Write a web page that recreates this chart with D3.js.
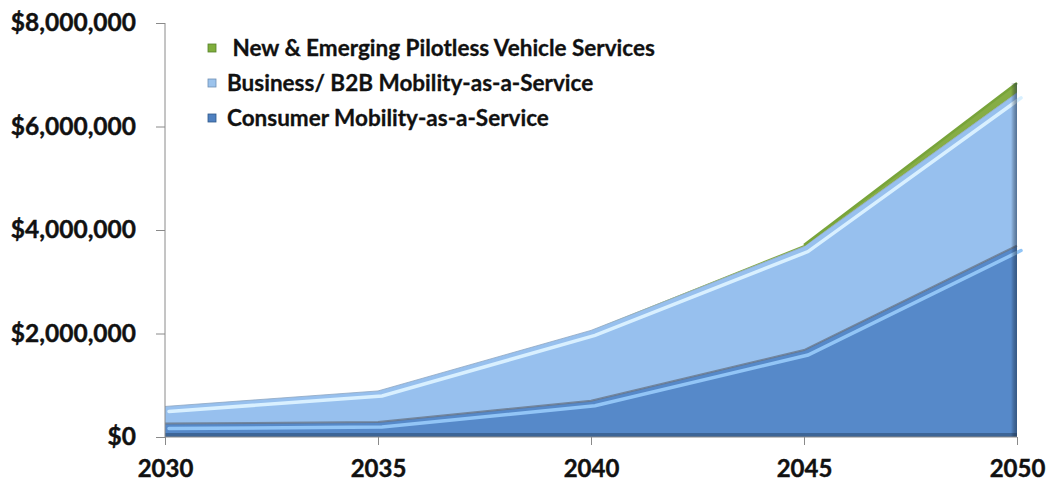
<!DOCTYPE html>
<html>
<head>
<meta charset="utf-8">
<script src="https://cdn.jsdelivr.net/npm/d3@7"></script>
<style>
  body { margin: 0; background: #fff; }
  text { font-family: Lato, "Open Sans", sans-serif; font-weight: bold; fill: #111; }
</style>
</head>
<body>
<div id="chart"></div>
<script>
// data
var years = [2030, 2035, 2040, 2045, 2050];
var consumer = [260000, 290000, 700000, 1680000, 3700000];
var business = [330000, 600000, 1360000, 2000000, 2950000];
var emerging = [0, 0, 0, 30000, 190000];
var seriesNames = ["Consumer Mobility-as-a-Service", "Business/ B2B Mobility-as-a-Service", " New & Emerging Pilotless Vehicle Services"];
var yTicks = [0, 2000000, 4000000, 6000000, 8000000];

var width = 1049, height = 486;
var margin = {top: 23, right: 32, bottom: 49, left: 165};

var svg = d3.select("#chart").append("svg")
    .attr("width", width)
    .attr("height", height);

var x = d3.scaleLinear().domain([2030, 2050]).range([margin.left, width - margin.right]);
var y = d3.scaleLinear().domain([0, 8000000]).range([height - margin.bottom, margin.top]);

var rows = years.map(function(yr, i) {
    return {year: yr, consumer: consumer[i], business: business[i], emerging: emerging[i]};
});
var stacked = d3.stack().keys(["consumer", "business", "emerging"])(rows);

var fills = {consumer: "#5689c9", business: "#97c0ee", emerging: "#86ad45"};
var highlights = {consumer: "#92c5f6", business: "#d9f0ff", emerging: "#a9cf6a"};
var edges = {consumer: "#66758a", business: "#8da6c2", emerging: "#5f8a2a"};

var defs = svg.append("defs");
var sideGrad = defs.append("linearGradient").attr("id", "side").attr("x1", 0).attr("x2", 1);
sideGrad.append("stop").attr("offset", 0).attr("stop-color", "#000").attr("stop-opacity", 0);
sideGrad.append("stop").attr("offset", 1).attr("stop-color", "#1d3350").attr("stop-opacity", 0.55);

var area = d3.area()
    .x(function(d) { return x(d.data.year); })
    .y0(function(d) { return y(d[0]); })
    .y1(function(d) { return y(d[1]); });

var topLine = d3.line()
    .x(function(d) { return x(d.data.year); })
    .y(function(d) { return y(d[1]); });

var plot = svg.append("g");

stacked.forEach(function(s) {
    plot.append("path").datum(s)
        .attr("d", area)
        .attr("fill", fills[s.key]);
});

// bevel look: dark edge on top, light highlight just under it
stacked.forEach(function(s) {
    if (s.key == "emerging") {
        plot.append("path").datum(s.filter(function(d) { return d.data.year >= 2045; }))
            .attr("d", topLine)
            .attr("fill", "none")
            .attr("stroke", "#78a43a")
            .attr("stroke-width", 2.5);
        return;
    }
    plot.append("path").datum(s)
        .attr("d", topLine)
        .attr("fill", "none")
        .attr("stroke", highlights[s.key])
        .attr("stroke-width", 3.5)
        .attr("stroke-linecap", "round")
        .attr("transform", "translate(4,5)");
    plot.append("path").datum(s)
        .attr("d", topLine)
        .attr("fill", "none")
        .attr("stroke", edges[s.key])
        .attr("stroke-width", s.key == "consumer" ? 2 : 1)
        .attr("stroke-opacity", 0.8);
});

// dark bottom rim of the lowest area
plot.append("line")
    .attr("x1", x(2030)).attr("x2", x(2050))
    .attr("y1", y(0) - 2).attr("y2", y(0) - 2)
    .attr("stroke", "#3d6596")
    .attr("stroke-width", 4);

// shading on the right edge
var last = stacked[stacked.length - 1];
plot.append("rect")
    .attr("x", x(2050) - 6)
    .attr("y", y(last[last.length - 1][1]))
    .attr("width", 6)
    .attr("height", y(0) - y(last[last.length - 1][1]))
    .attr("fill", "url(#side)");

// axes
var axisColor = "#8a8a8a";

var yAxis = svg.append("g")
    .attr("transform", "translate(" + x(2030) + ",0)")
    .call(d3.axisLeft(y).tickValues(yTicks).tickSize(9).tickPadding(20)
        .tickFormat(function(d) { return "$" + d3.format(",")(d); }));
yAxis.select(".domain").attr("stroke", axisColor).attr("d", "M0," + y(8000000) + "V" + y(0));
yAxis.selectAll(".tick line").attr("stroke", axisColor);
yAxis.selectAll("text").attr("font-family", "Lato, sans-serif").attr("font-size", 24.5).attr("font-weight", "bold").attr("fill", "#111")
    .style("stroke", "#111").style("stroke-width", 0.4);

var xAxis = svg.append("g")
    .attr("transform", "translate(0," + y(0) + ")")
    .call(d3.axisBottom(x).tickValues(years).tickSize(8).tickPadding(15).tickFormat(d3.format("d")));
xAxis.select(".domain").attr("stroke", axisColor).attr("d", "M" + x(2030) + ",0H" + x(2050));
xAxis.selectAll(".tick line").attr("stroke", axisColor);
xAxis.selectAll("text").attr("font-family", "Lato, sans-serif").attr("font-size", 24).attr("font-weight", "bold").attr("fill", "#111")
    .style("stroke", "#111").style("stroke-width", 0.4);

// legend, top entry first
var legendColors = [
    {fill: "#4f80c0", stroke: "#2f5889"},
    {fill: "#9cc3ec", stroke: "#6f8fb5"},
    {fill: "#7fae3c", stroke: "#55802a"}
];
var legend = svg.append("g").attr("transform", "translate(208,48)");
[2, 1, 0].forEach(function(k, i) {
    var g = legend.append("g").attr("transform", "translate(0," + (i * 35) + ")");
    g.append("rect")
        .attr("x", 0).attr("y", -4)
        .attr("width", 8).attr("height", 8)
        .attr("fill", legendColors[k].fill)
        .attr("stroke", legendColors[k].stroke)
        .attr("stroke-width", 0.8);
    g.append("text")
        .attr("x", 19)
        .attr("y", 0)
        .attr("dy", "0.35em")
        .attr("font-size", 22.5)
        .style("white-space", "pre")
        .style("stroke", "#111").style("stroke-width", 0.3)
        .text(seriesNames[k]);
});
</script>
</body>
</html>
